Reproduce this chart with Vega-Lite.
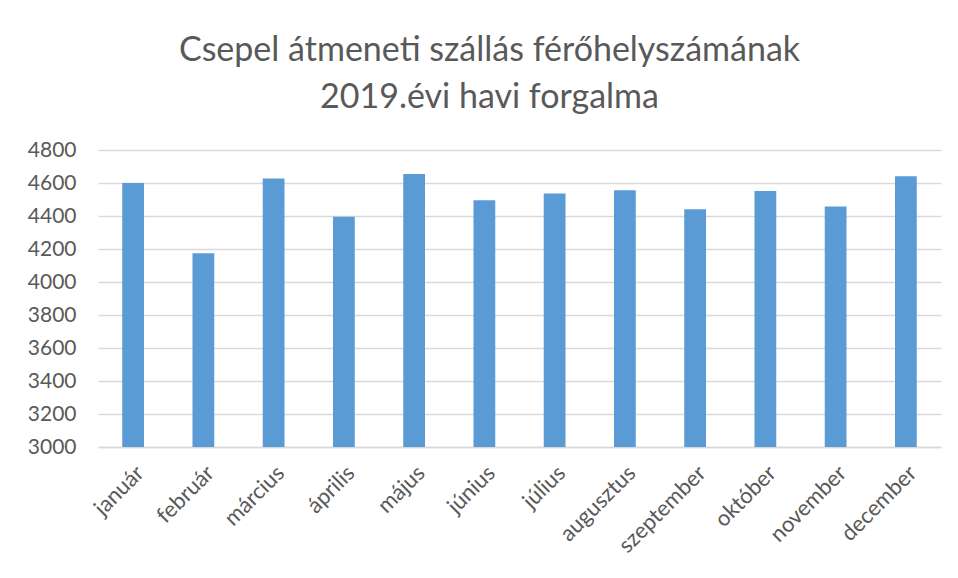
{
  "$schema": "https://vega.github.io/schema/vega-lite/v6.json",
  "width": 843,
  "height": 297,
  "autosize": "none",
  "padding": {"left": 98, "right": 17, "top": 150, "bottom": 131},
  "background": "white",
  "title": {
    "text": ["Csepel átmeneti szállás férőhelyszámának", "2019.évi havi forgalma"],
    "font": "Lato",
    "fontSize": 34,
    "fontWeight": "normal",
    "color": "#595959",
    "lineHeight": 47,
    "anchor": "middle",
    "dx": -30,
    "offset": 24
  },
  "data": {
    "values": [
      {"honap": "január", "ertek": 4600},
      {"honap": "február", "ertek": 4174},
      {"honap": "március", "ertek": 4627},
      {"honap": "április", "ertek": 4396},
      {"honap": "május", "ertek": 4655},
      {"honap": "június", "ertek": 4495},
      {"honap": "július", "ertek": 4536},
      {"honap": "augusztus", "ertek": 4556},
      {"honap": "szeptember", "ertek": 4441},
      {"honap": "október", "ertek": 4552},
      {"honap": "november", "ertek": 4457},
      {"honap": "december", "ertek": 4641}
    ]
  },
  "mark": {"type": "bar", "color": "#5B9BD5", "clip": true},
  "encoding": {
    "x": {
      "field": "honap",
      "type": "nominal",
      "sort": null,
      "title": null,
      "scale": {"paddingInner": 0.69, "paddingOuter": 0.345},
      "axis": {
        "labelAngle": -45,
        "labelFont": "Lato",
        "labelFontSize": 22,
        "labelColor": "#595959",
        "labelPadding": 15,
        "ticks": false,
        "domainColor": "#d9d9d9",
        "domainWidth": 1.5
      }
    },
    "y": {
      "field": "ertek",
      "type": "quantitative",
      "title": null,
      "scale": {"domain": [3000, 4800], "zero": false},
      "axis": {
        "values": [3000, 3200, 3400, 3600, 3800, 4000, 4200, 4400, 4600, 4800],
        "format": "d",
        "labelFont": "Lato",
        "labelFontSize": 21,
        "labelColor": "#595959",
        "labelPadding": 22,
        "ticks": false,
        "domain": false,
        "gridColor": "#d9d9d9",
        "gridWidth": 1.5
      }
    }
  },
  "config": {"view": {"stroke": null}}
}
